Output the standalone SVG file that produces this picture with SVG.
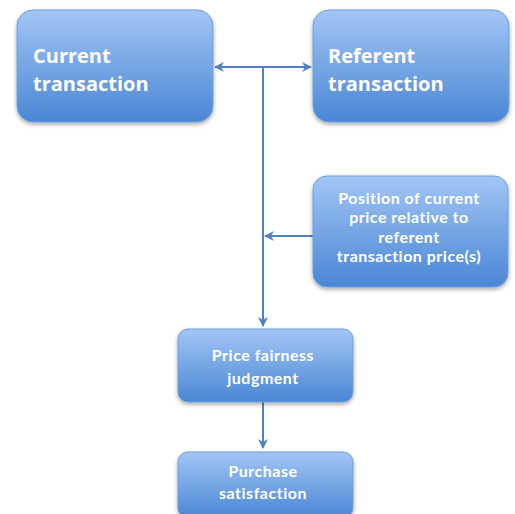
<svg xmlns="http://www.w3.org/2000/svg" width="515" height="514" viewBox="0 0 515 514">
  <style>
    .box { fill: url(#boxFill); stroke: #6f9fdc; stroke-width: 1; filter: url(#shadow); }
    .big { font-family: "Open Sans", "Liberation Sans", sans-serif; font-weight: bold; font-size: 20px; fill: #ffffff; }
    .small { font-family: Lato, "Liberation Sans", sans-serif; font-weight: bold; font-size: 16px; letter-spacing: 0.5px; fill: #ffffff; text-anchor: middle; }
    .link { stroke: #5282bd; stroke-width: 2; fill: none; }
  </style>
  <defs>
    <linearGradient id="boxFill" x1="0" y1="0" x2="0" y2="1">
      <stop offset="0" stop-color="#a2c6f5"/>
      <stop offset="1" stop-color="#4a86d4"/>
    </linearGradient>
    <filter id="shadow" x="-10%" y="-10%" width="120%" height="130%">
      <feGaussianBlur in="SourceAlpha" stdDeviation="2"/>
      <feOffset dy="2"/>
      <feComponentTransfer><feFuncA type="linear" slope="0.35"/></feComponentTransfer>
      <feMerge><feMergeNode/><feMergeNode in="SourceGraphic"/></feMerge>
    </filter>
    <marker id="arrow" viewBox="0 0 10 10" refX="9" refY="5" markerWidth="5" markerHeight="5" orient="auto-start-reverse" markerUnits="strokeWidth">
      <path d="M0,0 L10,5 L0,10 L3,5 z" fill="#5282bd"/>
    </marker>
  </defs>

  <rect width="515" height="514" fill="#ffffff"/>

  <g id="connectors">
    <line class="link" x1="215" y1="67" x2="311" y2="67" marker-start="url(#arrow)" marker-end="url(#arrow)"/>
    <line class="link" x1="263" y1="67" x2="263" y2="326"/>
    <line class="link" x1="313" y1="236" x2="265" y2="236" marker-end="url(#arrow)"/>
    <line class="link" x1="263" y1="310" x2="263" y2="326" marker-end="url(#arrow)"/>
    <line class="link" x1="263" y1="402" x2="263" y2="448" marker-end="url(#arrow)"/>
  </g>

  <g id="current-transaction">
    <rect class="box" x="17" y="10" width="196" height="112" rx="16"/>
    <text class="big" x="33" y="63">Current</text>
    <text class="big" x="33" y="91">transaction</text>
  </g>

  <g id="referent-transaction">
    <rect class="box" x="313" y="10" width="196" height="112" rx="16"/>
    <text class="big" x="328" y="63">Referent</text>
    <text class="big" x="328" y="91">transaction</text>
  </g>

  <g id="price-position">
    <rect class="box" x="313" y="176" width="195" height="111" rx="14"/>
    <text class="small" x="409" y="204">Position of current</text>
    <text class="small" x="409" y="223.3">price relative to</text>
    <text class="small" x="409" y="242.6">referent</text>
    <text class="small" x="409" y="261.9">transaction price(s)</text>
  </g>

  <g id="price-fairness">
    <rect class="box" x="178" y="329" width="175" height="73" rx="10"/>
    <text class="small" x="263" y="361">Price fairness</text>
    <text class="small" x="263" y="384">judgment</text>
  </g>

  <g id="purchase-satisfaction">
    <rect class="box" x="178" y="452" width="175" height="66" rx="10"/>
    <text class="small" x="263" y="477">Purchase</text>
    <text class="small" x="263" y="499">satisfaction</text>
  </g>
</svg>
